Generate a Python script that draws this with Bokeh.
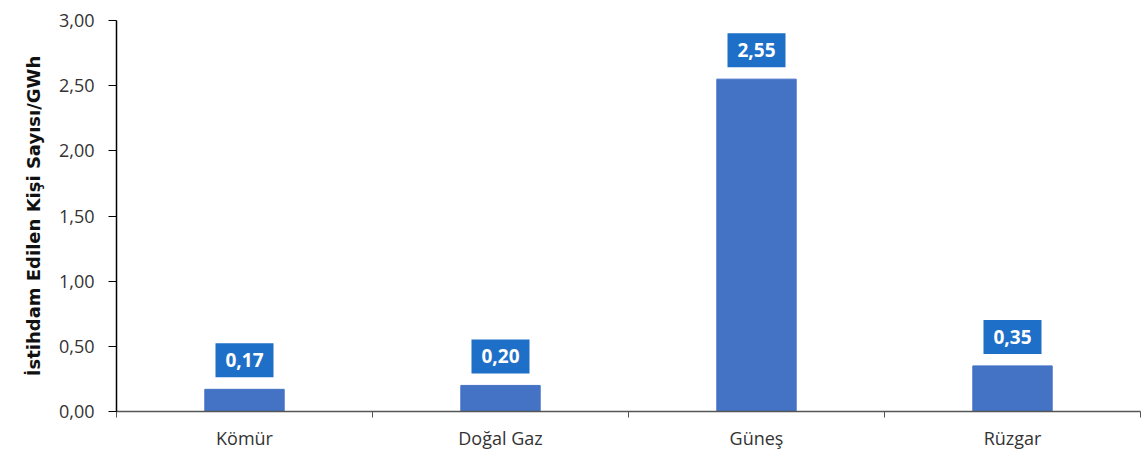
from bokeh.plotting import figure
from bokeh.models import Range1d, FixedTicker, Label
from bokeh.embed import file_html
from bokeh.resources import INLINE

categories = ["Kömür", "Doğal Gaz", "Güneş", "Rüzgar"]
values = [0.17, 0.20, 2.55, 0.35]
value_labels = ["0,17", "0,20", "2,55", "0,35"]
y_ticks = [0.0, 0.5, 1.0, 1.5, 2.0, 2.5, 3.0]
y_tick_labels = ["0,00", "0,50", "1,00", "1,50", "2,00", "2,50", "3,00"]
y_title = "İstihdam Edilen Kişi Sayısı/GWh"

FONT = "Open Sans"
centers = [i + 0.5 for i in range(len(categories))]

p = figure(width=1141, height=452, output_backend="svg", toolbar_location=None,
           x_range=Range1d(0, len(categories)), y_range=Range1d(0, 3),
           min_border_left=116, min_border_right=1, min_border_top=20, min_border_bottom=37)
p.outline_line_color = None
p.xgrid.visible = False
p.ygrid.visible = False

p.vbar(x=centers, top=values, width=0.31, color="#4472C4")

# y axis
p.yaxis.ticker = FixedTicker(ticks=y_ticks, minor_ticks=[])
p.yaxis.major_label_overrides = {t: l for t, l in zip(y_ticks, y_tick_labels)}
p.yaxis.axis_line_color = "#000000"
p.yaxis.axis_line_width = 1.5
p.yaxis.major_tick_line_color = "#000000"
p.yaxis.major_tick_out = 8
p.yaxis.major_tick_in = 0
p.yaxis.major_label_text_font = FONT
p.yaxis.major_label_text_font_size = "18px"
p.yaxis.major_label_text_color = "#333333"
p.yaxis.major_label_standoff = 14
p.yaxis.axis_label = y_title
p.yaxis.axis_label_text_font = "DejaVu Sans"
p.yaxis.axis_label_text_font_size = "18px"
p.yaxis.axis_label_text_font_style = "bold"
p.yaxis.axis_label_text_color = "#111111"
p.yaxis.axis_label_standoff = 12

# x axis
p.xaxis.ticker = FixedTicker(ticks=centers, minor_ticks=list(range(0, len(categories) + 1)))
p.xaxis.major_label_overrides = {c: n for c, n in zip(centers, categories)}
p.xaxis.axis_line_color = "#555555"
p.xaxis.axis_line_width = 1.5
p.xaxis.major_tick_out = 0
p.xaxis.major_tick_in = 0
p.xaxis.minor_tick_out = 6
p.xaxis.minor_tick_in = 0
p.xaxis.minor_tick_line_color = "#555555"
p.xaxis.major_label_text_font = FONT
p.xaxis.major_label_text_font_size = "18px"
p.xaxis.major_label_text_color = "#333333"
p.xaxis.major_label_standoff = 8

for xc, v, lab in zip(centers, values, value_labels):
    p.add_layout(Label(x=xc, y=v, text=lab, y_offset=12, text_align="center",
                       text_baseline="bottom", text_color="white", text_font=FONT,
                       text_font_size="19px", text_font_style="bold",
                       background_fill_color="#1E6FC8", padding=10))

open("out.html", "w").write(file_html(p, INLINE))
